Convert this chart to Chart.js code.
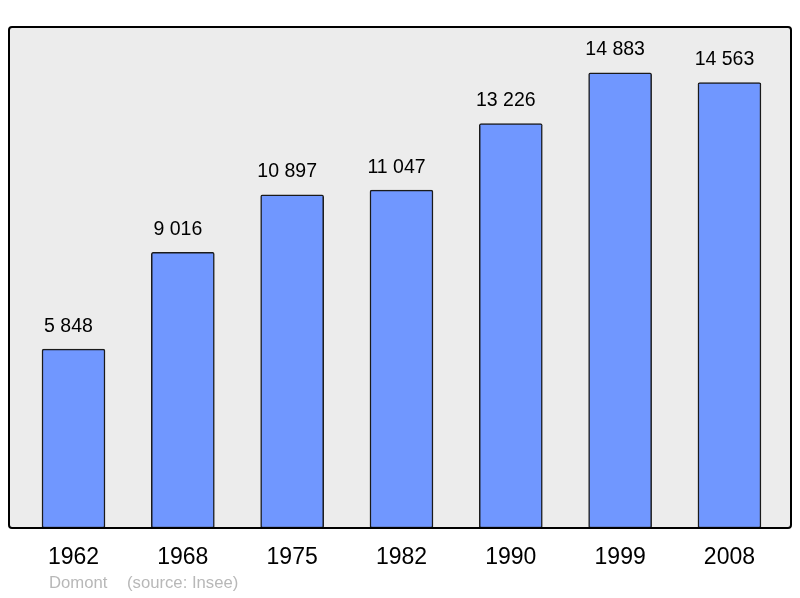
<!DOCTYPE html>
<html>
<head>
<meta charset="utf-8">
<script src="https://cdn.jsdelivr.net/npm/chart.js@4"></script>
<style>
  html, body { margin: 0; padding: 0; background: #fff; }
  #wrap { width: 800px; height: 598px; }
</style>
</head>
<body>
<div id="wrap"><canvas id="chart" width="800" height="598"></canvas></div>
<script>
const YEARS = ["1962", "1968", "1975", "1982", "1990", "1999", "2008"];
const POPULATION = [5848, 9016, 10897, 11047, 13226, 14883, 14563];
const TOWN = "Domont";
const SOURCE = "(source: Insee)";

const fmt = v => String(v).replace(/\B(?=(\d{3})+(?!\d))/g, " ");

const framePlugin = {
  id: "frame",
  beforeDraw(chart) {
    const { ctx, chartArea: { left, top, right, bottom } } = chart;
    ctx.save();
    ctx.fillStyle = "#ececec";
    ctx.beginPath();
    ctx.roundRect(left, top, right - left, bottom - top, 3);
    ctx.fill();
    ctx.restore();
  },
  afterDatasetsDraw(chart) {
    const { ctx, chartArea: { left, top, right, bottom } } = chart;
    ctx.save();
    ctx.strokeStyle = "#000";
    ctx.lineWidth = 2;
    ctx.beginPath();
    ctx.roundRect(left, top, right - left, bottom - top, 3);
    ctx.stroke();

    // value labels (sit a little left of the bar centre, like the original)
    ctx.fillStyle = "#000";
    ctx.font = "19.5px 'Liberation Sans', Arial, sans-serif";
    ctx.textAlign = "center";
    ctx.textBaseline = "middle";
    chart.getDatasetMeta(0).data.forEach((bar, i) => {
      ctx.fillText(fmt(POPULATION[i]), bar.x - 5, bar.y - 23);
    });

    // footer
    ctx.fillStyle = "#b8b8b8";
    ctx.font = "16.7px 'Liberation Sans', Arial, sans-serif";
    ctx.textAlign = "left";
    ctx.fillText(TOWN, 49, 583);
    ctx.fillText(SOURCE, 127, 583);
    ctx.restore();
  },
};

new Chart(document.getElementById("chart"), {
  type: "bar",
  data: {
    datasets: [{
      data: POPULATION.map((v, i) => ({ x: i, y: v })),
      backgroundColor: "#7097ff",
      borderColor: "#1a1a1a",
      borderWidth: 1.5,
      borderRadius: 2,
      borderSkipped: false,
      barThickness: 63,
    }],
  },
  options: {
    responsive: false,
    animation: false,
    layout: { padding: { left: 9, right: 9, top: 27, bottom: 0 } },
    plugins: { legend: { display: false }, tooltip: { enabled: false } },
    scales: {
      x: {
        type: "linear",
        offset: false,
        min: -0.59,
        max: 6.563,
        grid: { display: false, drawTicks: false },
        border: { display: false },
        afterFit(scale) { scale.height = 70; },
        afterBuildTicks(scale) {
          scale.ticks = YEARS.map((_, i) => ({ value: i }));
        },
        ticks: {
          color: "#000",
          padding: 16,
          font: { size: 23, family: "'Liberation Sans', Arial, sans-serif" },
          callback: v => YEARS[v] ?? "",
        },
      },
      y: {
        display: false,
        min: 0,
        max: 16383,
      },
    },
  },
  plugins: [framePlugin],
});
</script>
</body>
</html>
